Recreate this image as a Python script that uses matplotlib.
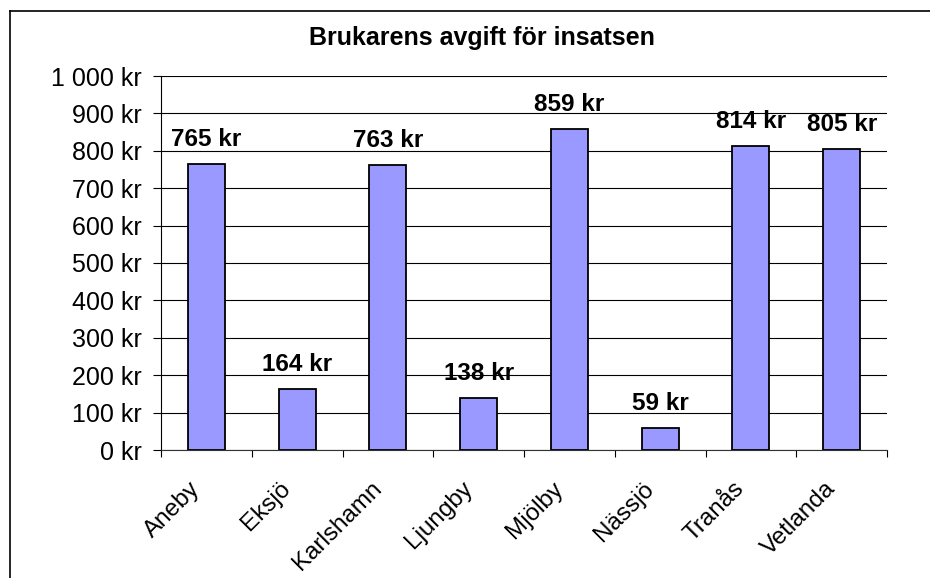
import matplotlib
matplotlib.use("Agg")
import matplotlib.pyplot as plt
from matplotlib.lines import Line2D
from matplotlib.ticker import FixedLocator, FuncFormatter
import matplotlib.transforms as mtransforms
import numpy as np

categories = ["Aneby", "Eksjö", "Karlshamn", "Ljungby", "Mjölby", "Nässjö", "Tranås", "Vetlanda"]
values = [765, 164, 763, 138, 859, 59, 814, 805]
yticks = [0, 100, 200, 300, 400, 500, 600, 700, 800, 900, 1000]
title = "Brukarens avgift för insatsen"

plt.rcParams['font.family'] = ['Liberation Sans', 'DejaVu Sans']

W, H = 930, 578
fig = plt.figure(figsize=(W / 100, H / 100), dpi=100)
ax = fig.add_axes([161 / W, 1 - 450 / H, (887 - 161) / W, (450 - 76) / H])

x = np.arange(len(categories))
ax.bar(x, values, width=0.41, color="#9999FF", edgecolor="black", linewidth=1.3, zorder=3)

ax.set_xlim(-0.5, len(categories) - 0.5)
ax.set_ylim(0, 1000)


def fmt_kr(v, pos=None):
    s = f"{int(round(v)):,}".replace(",", " ")
    return f"{s} kr"


ax.yaxis.set_major_locator(FixedLocator(yticks))
ax.yaxis.set_major_formatter(FuncFormatter(fmt_kr))
ax.tick_params(axis="y", which="major", direction="out", length=6, width=0.8,
               pad=8, labelsize=18, colors="black")
ax.grid(axis="y", color="black", linewidth=0.8, zorder=0)

ax.set_xticks(x)
ax.set_xticks(np.arange(len(categories) + 1) - 0.5, minor=True)
ax.tick_params(axis="x", which="major", length=0, pad=20, labelsize=17.5)
ax.tick_params(axis="x", which="minor", length=5, width=0.8, direction="out")
offset = mtransforms.ScaledTranslation(-2 / 100, 0, fig.dpi_scale_trans)
ax.set_xticklabels(categories, rotation=45, ha="right")
for lab in ax.get_xticklabels():
    lab.set_transform(lab.get_transform() + offset)

for s in ["top", "right"]:
    ax.spines[s].set_visible(False)
ax.spines["left"].set_linewidth(0.8)
ax.spines["bottom"].set_linewidth(0.8)
ax.spines["bottom"].set_color("#333333")

for xi, v in zip(x, values):
    ax.annotate(fmt_kr(v), (xi, v), xytext=(0, 13), textcoords="offset points",
                ha="center", va="baseline", fontsize=17.5, fontweight="bold", zorder=4)

fig.text(482 / W, 1 - 38 / H, title, ha="center", va="center", fontsize=18, fontweight="bold")

# outer border (left and top only visible)
fig.add_artist(Line2D([10 / W, 10 / W], [0, 1 - 11 / H], transform=fig.transFigure,
                      color="black", linewidth=1.2))
fig.add_artist(Line2D([10 / W, 1], [1 - 11 / H, 1 - 11 / H], transform=fig.transFigure,
                      color="black", linewidth=1.2))

fig.savefig("out.png", dpi=100)
